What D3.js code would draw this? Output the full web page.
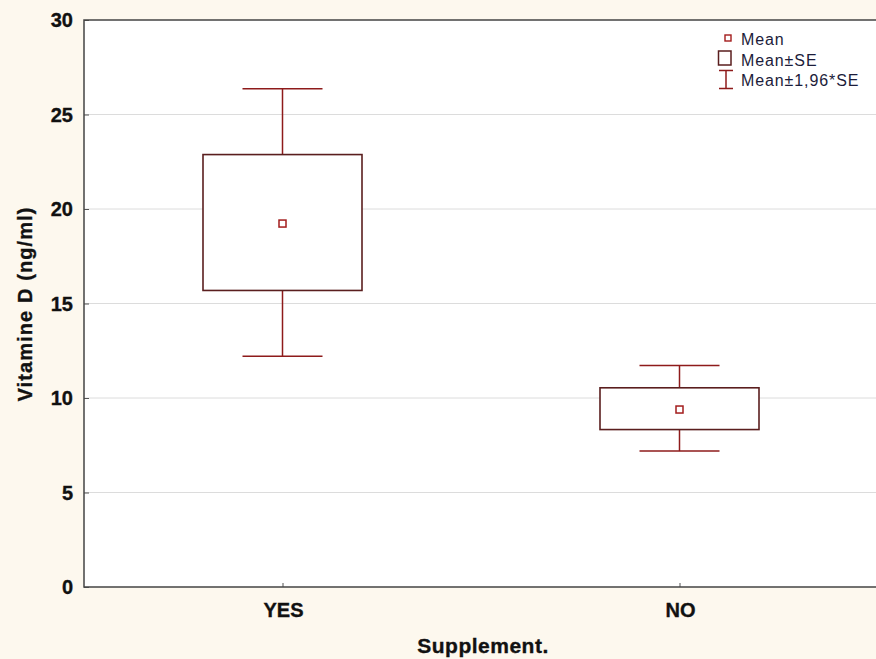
<!DOCTYPE html>
<html>
<head>
<meta charset="utf-8">
<script src="https://cdn.jsdelivr.net/npm/d3@7"></script>
<style>
  body { margin: 0; background: #fdf8ee; }
  text { font-family: "Liberation Sans", Arial, sans-serif; }
</style>
</head>
<body>
<div id="chart"></div>
<script>
  var groups = ["YES", "NO"];
  var means = [19.23, 9.39];
  var seLow = [15.69, 8.33];
  var seHigh = [22.88, 10.54];
  var ciLow = [12.21, 7.19];
  var ciHigh = [26.36, 11.72];
  var yTicks = [0, 5, 10, 15, 20, 25, 30];
  var legendLabels = ["Mean", "Mean\u00b1SE", "Mean\u00b11,96*SE"];

  (function() {
    var W = 876, H = 659;
    var pLeft = 84, pTop = 20, pRight = 878, pBottom = 587;

    var svg = d3.select("#chart").append("svg")
        .attr("width", W)
        .attr("height", H);

    svg.append("rect").attr("width", W).attr("height", H).attr("fill", "#fdf8ee");
    svg.append("rect")
        .attr("x", pLeft).attr("y", pTop)
        .attr("width", pRight - pLeft).attr("height", pBottom - pTop)
        .attr("fill", "#ffffff");

    var x = d3.scalePoint().domain(groups).range([pLeft, pRight]).padding(0.5);
    var y = d3.scaleLinear().domain([0, 30]).range([pBottom, pTop]);

    // grid
    svg.selectAll("line.grid")
        .data(yTicks.slice(1, -1))
        .enter().append("line")
        .attr("class", "grid")
        .attr("x1", pLeft).attr("x2", pRight)
        .attr("y1", function(d) { return y(d); })
        .attr("y2", function(d) { return y(d); })
        .attr("stroke", "#dcdcdc")
        .attr("stroke-width", 1);

    // y axis
    var yAxis = svg.append("g")
        .attr("transform", "translate(" + pLeft + ",0)")
        .call(d3.axisRight(y).tickValues(yTicks).tickSize(5).tickFormat(""));
    yAxis.select(".domain").remove();
    yAxis.selectAll("line").attr("stroke", "#555");

    function bold(sel) {
      return sel.attr("font-weight", "bold")
          .attr("fill", "#111")
          .attr("stroke", "#111")
          .attr("stroke-width", 0.35);
    }

    svg.selectAll("text.ylab")
        .data(yTicks)
        .enter().append("text")
        .attr("class", "ylab")
        .attr("x", 73)
        .attr("y", function(d) { return y(d) + 7; })
        .attr("text-anchor", "end")
        .attr("font-size", 20)
        .call(bold)
        .text(function(d) { return d; });

    // x axis
    var xAxis = svg.append("g")
        .attr("transform", "translate(0," + pBottom + ")")
        .call(d3.axisTop(x).tickSize(4).tickFormat(""));
    xAxis.select(".domain").remove();
    xAxis.selectAll("line").attr("stroke", "#555");

    svg.selectAll("text.xlab")
        .data(groups)
        .enter().append("text")
        .attr("class", "xlab")
        .attr("x", function(d) { return x(d) + 1; })
        .attr("y", 617)
        .attr("text-anchor", "middle")
        .attr("font-size", 20)
        .call(bold)
        .text(function(d) { return d; });

    // frame
    svg.append("path")
        .attr("d", "M" + pRight + "," + pTop + "H" + pLeft + "V" + pBottom + "H" + pRight)
        .attr("fill", "none")
        .attr("stroke", "#444")
        .attr("stroke-width", 1.5);

    // axis titles
    svg.append("text")
        .attr("x", 483).attr("y", 653)
        .attr("text-anchor", "middle")
        .attr("font-size", 21)
        .attr("letter-spacing", 0.5)
        .call(bold)
        .text("Supplement.");

    svg.append("text")
        .attr("transform", "translate(32,304) rotate(-90)")
        .attr("text-anchor", "middle")
        .attr("font-size", 20)
        .attr("letter-spacing", 1.1)
        .call(bold)
        .text("Vitamine D (ng/ml)");

    var boxW = 159, capW = 80;
    var whiskerColor = "#8e1b1b", boxColor = "#5a1e1e", meanColor = "#a31c1c";

    var g = svg.selectAll("g.grp")
        .data(groups)
        .enter().append("g")
        .attr("class", "grp");

    g.append("line")
        .attr("x1", function(d) { return x(d); })
        .attr("x2", function(d) { return x(d); })
        .attr("y1", function(d, i) { return y(ciHigh[i]); })
        .attr("y2", function(d, i) { return y(ciLow[i]); })
        .attr("stroke", whiskerColor).attr("stroke-width", 1.5);

    [ciHigh, ciLow].forEach(function(arr) {
      g.append("line")
          .attr("x1", function(d) { return x(d) - capW / 2; })
          .attr("x2", function(d) { return x(d) + capW / 2; })
          .attr("y1", function(d, i) { return y(arr[i]); })
          .attr("y2", function(d, i) { return y(arr[i]); })
          .attr("stroke", whiskerColor).attr("stroke-width", 1.5);
    });

    g.append("rect")
        .attr("x", function(d) { return x(d) - boxW / 2; })
        .attr("y", function(d, i) { return y(seHigh[i]); })
        .attr("width", boxW)
        .attr("height", function(d, i) { return y(seLow[i]) - y(seHigh[i]); })
        .attr("fill", "#fff")
        .attr("stroke", boxColor).attr("stroke-width", 1.6);

    g.append("rect")
        .attr("x", function(d) { return x(d) - 3.5; })
        .attr("y", function(d, i) { return y(means[i]) - 3.5; })
        .attr("width", 7).attr("height", 7)
        .attr("fill", "#fff")
        .attr("stroke", meanColor).attr("stroke-width", 1.5);

    // legend
    var lg = svg.append("g");
    lg.append("rect").attr("x", 725).attr("y", 35).attr("width", 6).attr("height", 6)
        .attr("fill", "#fff").attr("stroke", meanColor).attr("stroke-width", 1.4);
    lg.append("rect").attr("x", 718.5).attr("y", 51).attr("width", 12.5).attr("height", 14)
        .attr("fill", "#fff").attr("stroke", boxColor).attr("stroke-width", 1.5);
    lg.append("path").attr("d", "M719,70.5H733M726,70.5V88.5M719,88.5H733")
        .attr("fill", "none").attr("stroke", whiskerColor).attr("stroke-width", 1.5);

    lg.selectAll("text")
        .data(legendLabels)
        .enter().append("text")
        .attr("x", 741)
        .attr("y", function(d, i) { return 45 + i * 20.5; })
        .attr("font-size", 16)
        .attr("letter-spacing", 0.9)
        .attr("fill", "#1c1c3a")
        .text(function(d) { return d; });
  })();
</script>
</body>
</html>
